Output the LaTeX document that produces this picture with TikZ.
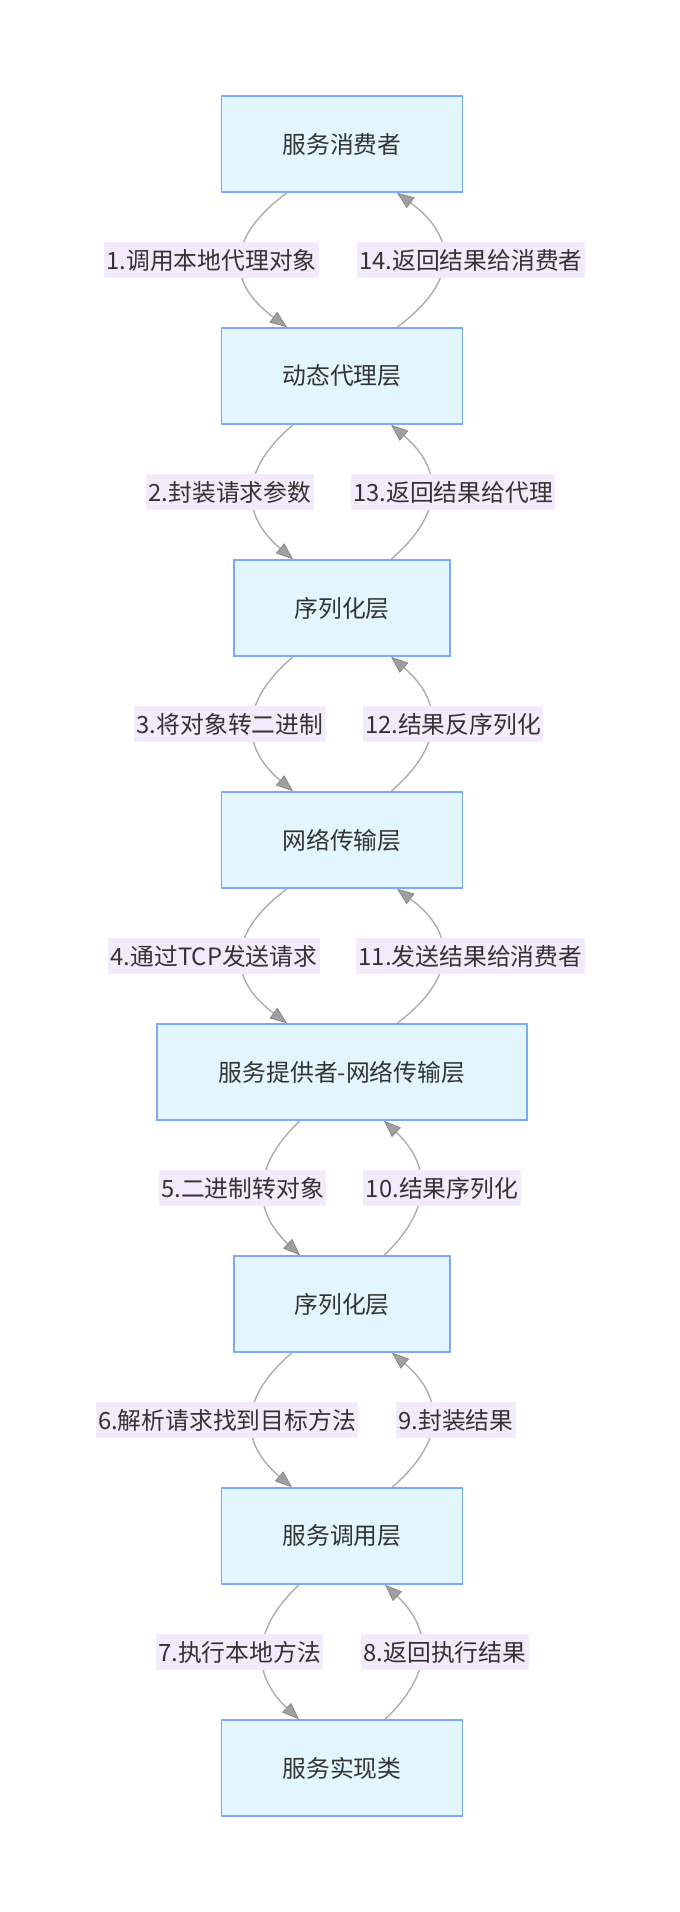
\documentclass[tikz,border=0pt]{standalone}
\usepackage{fontspec}
\setmainfont{Noto Sans CJK SC}
\usetikzlibrary{arrows.meta}

\definecolor{boxfill}{HTML}{E3F5FE}
\definecolor{boxline}{HTML}{7DA9F6}
\definecolor{labfill}{HTML}{F3EBFC}
\definecolor{edgeline}{HTML}{ADADAD}
\definecolor{tipfill}{HTML}{A0A0A0}
\definecolor{tipline}{HTML}{888888}
\definecolor{txt}{HTML}{333333}

\tikzset{
	layer/.style={draw=boxline, fill=boxfill, line width=1.5pt, minimum height=96pt, inner sep=0pt, text=txt, font=\fontsize{23.8pt}{28pt}\selectfont},
	steplabel/.style={fill=labfill, minimum height=36pt, inner xsep=2.5pt, inner ysep=0pt, text=txt, font=\fontsize{23.8pt}{28pt}\selectfont},
	flow/.style={draw=edgeline, line width=1.4pt, -{Triangle[length=17pt, width=13pt, color=tipline, fill=tipfill, line width=0.8pt]}}
}

\begin{document}
\begin{tikzpicture}[x=1pt, y=1pt]
		\useasboundingbox (0,0) rectangle (680,-1912);
		% layers
		\node[layer, minimum width=241pt] (cons) at (342,-144) {服务消费者};
		\node[layer, minimum width=241pt] (proxy) at (342,-376) {动态代理层};
		\node[layer, minimum width=216pt] (ser) at (342,-608) {序列化层};
		\node[layer, minimum width=241pt] (net) at (342,-840) {网络传输层};
		\node[layer, minimum width=370pt] (provnet) at (342,-1072) {服务提供者-网络传输层};
		\node[layer, minimum width=216pt] (deser) at (342,-1304) {序列化层};
		\node[layer, minimum width=241pt] (invoke) at (342,-1536) {服务调用层};
		\node[layer, minimum width=241pt] (impl) at (342,-1768) {服务实现类};

		% requests going down
		\draw[flow] ([xshift=-55pt]cons.south) .. controls +(-61,-45) and +(-61,45) .. ([xshift=-55pt]proxy.north);
		\draw[flow] ([xshift=-49pt]proxy.south) .. controls +(-53,-45) and +(-53,45) .. ([xshift=-49pt]ser.north);
		\draw[flow] ([xshift=-49pt]ser.south) .. controls +(-53,-45) and +(-53,45) .. ([xshift=-49pt]net.north);
		\draw[flow] ([xshift=-55pt]net.south) .. controls +(-60,-45) and +(-60,45) .. ([xshift=-55pt]provnet.north);
		\draw[flow] ([xshift=-42pt]provnet.south) .. controls +(-48,-45) and +(-48,45) .. ([xshift=-42pt]deser.north);
		\draw[flow] ([xshift=-50pt]deser.south) .. controls +(-53,-45) and +(-53,45) .. ([xshift=-50pt]invoke.north);
		\draw[flow] ([xshift=-43pt]invoke.south) .. controls +(-48,-45) and +(-48,45) .. ([xshift=-43pt]impl.north);

		% results going up
		\draw[flow] ([xshift=43pt]impl.north) .. controls +(48,45) and +(48,-45) .. ([xshift=43pt]invoke.south);
		\draw[flow] ([xshift=50pt]invoke.north) .. controls +(53,45) and +(53,-45) .. ([xshift=50pt]deser.south);
		\draw[flow] ([xshift=42pt]deser.north) .. controls +(48,45) and +(48,-45) .. ([xshift=42pt]provnet.south);
		\draw[flow] ([xshift=55pt]provnet.north) .. controls +(60,45) and +(60,-45) .. ([xshift=55pt]net.south);
		\draw[flow] ([xshift=49pt]net.north) .. controls +(53,45) and +(53,-45) .. ([xshift=49pt]ser.south);
		\draw[flow] ([xshift=49pt]ser.north) .. controls +(53,45) and +(53,-45) .. ([xshift=49pt]proxy.south);
		\draw[flow] ([xshift=55pt]proxy.north) .. controls +(61,45) and +(61,-45) .. ([xshift=55pt]cons.south);

		% step labels
		\node[steplabel] (l1) at (211.5,-260) {1.调用本地代理对象};
		\node[steplabel] (l14) at (471,-260) {14.返回结果给消费者};
		\node[steplabel] (l2) at (230,-492) {2.封装请求参数};
		\node[steplabel] (l13) at (453,-492) {13.返回结果给代理};
		\node[steplabel] (l3) at (230,-724) {3.将对象转二进制};
		\node[steplabel] (l12) at (453,-724) {12.结果反序列化};
		\node[steplabel] (l4) at (214,-956) {4.通过TCP发送请求};
		\node[steplabel] (l11) at (470.5,-956) {11.发送结果给消费者};
		\node[steplabel] (l5) at (242.5,-1188) {5.二进制转对象};
		\node[steplabel] (l10) at (442,-1188) {10.结果序列化};
		\node[steplabel] (l6) at (227,-1420) {6.解析请求找到目标方法};
		\node[steplabel] (l9) at (456,-1420) {9.封装结果};
		\node[steplabel] (l7) at (239.5,-1652) {7.执行本地方法};
		\node[steplabel] (l8) at (445,-1652) {8.返回执行结果};
	\end{tikzpicture}
\end{document}
